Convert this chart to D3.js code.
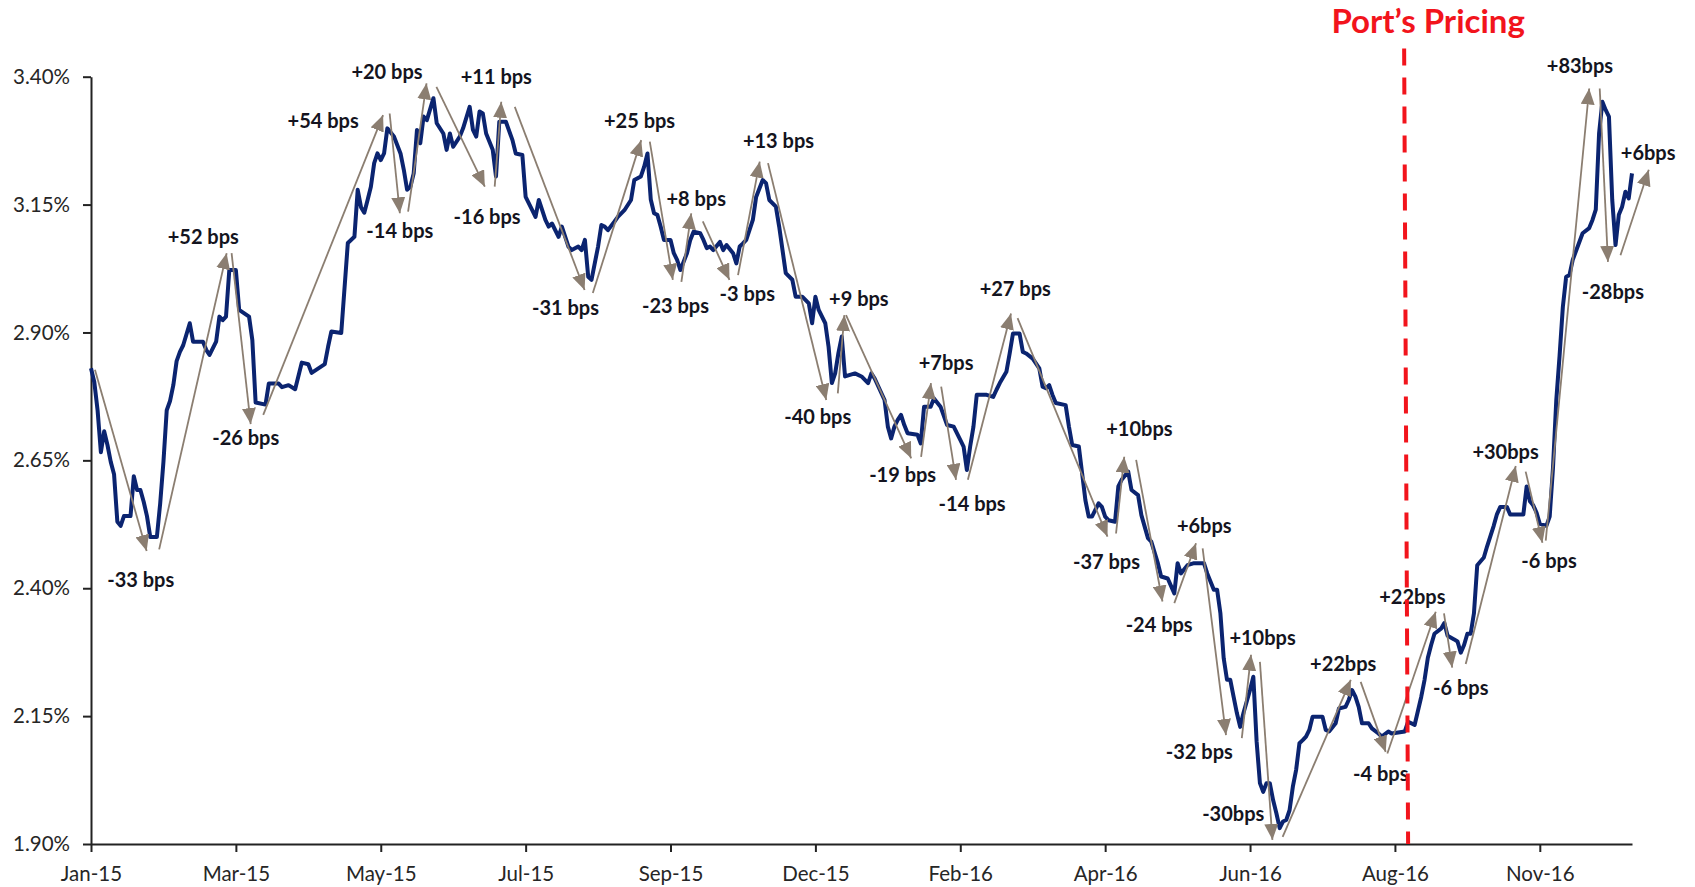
<!DOCTYPE html>
<html>
<head>
<meta charset="utf-8">
<script src="https://cdnjs.cloudflare.com/ajax/libs/d3/7.8.5/d3.min.js"></script>
<style>
  body { margin: 0; background: #fff; }
  text { font-family: Lato, "Open Sans", sans-serif; }
</style>
</head>
<body>
<svg id="chart" width="1695" height="887"></svg>
<script>
// business-day index from 2 Jan 2015, yield in %
const dayIndex = [0,1,2,3,4,5,6,7,8,9,10,12,13,14,15,16,17,18,20,21,22,23,24,25,26,27,28,30,31,34,35,36,38,39,40,41,42,44,45,48,49,50,53,54,57,58,60,62,64,66,67,71,72,73,76,78,80,81,82,83,84,85,86,87,88,89,90,92,94,95,96,97,98,99,100,101,102,104,105,107,108,109,110,112,113,115,116,117,118,119,120,122,123,124,126,128,129,131,132,134,135,136,138,139,140,142,143,145,146,148,149,150,151,152,154,155,156,157,159,160,162,164,165,167,168,169,170,171,172,173,174,176,177,178,179,181,182,183,185,186,187,188,189,191,192,193,195,196,197,198,199,201,202,204,205,206,208,209,211,213,214,216,218,219,220,221,223,224,225,226,227,228,229,232,234,236,237,238,241,242,243,244,245,246,247,248,251,252,253,255,256,258,260,262,264,265,266,267,268,269,272,274,275,276,278,279,280,282,283,284,286,288,289,290,291,292,293,296,297,298,300,301,302,303,304,306,307,308,309,311,312,313,315,316,318,319,321,322,324,325,327,329,330,331,333,335,338,339,341,342,343,344,345,346,347,348,349,350,352,353,354,355,356,357,358,359,360,361,362,363,364,365,366,367,368,369,370,371,374,375,376,378,379,381,382,383,384,385,386,388,389,391,392,394,395,399,400,402,404,405,406,407,408,410,411,412,414,415,416,417,418,419,420,421,423,424,426,427,428,430,431,435,436,437,438,439,440,442,443,444,445,446,447,448,449,450,453,455,456,457,458,459,460,461,462,463,464,465,466,467,468];
const yieldPct = [2.830,2.803,2.748,2.666,2.707,2.680,2.647,2.623,2.530,2.522,2.541,2.541,2.619,2.592,2.592,2.569,2.541,2.500,2.500,2.565,2.647,2.748,2.766,2.797,2.844,2.862,2.875,2.918,2.882,2.882,2.866,2.856,2.882,2.931,2.924,2.931,3.022,3.022,2.944,2.931,2.885,2.763,2.759,2.800,2.800,2.793,2.797,2.789,2.841,2.838,2.821,2.838,2.872,2.902,2.899,3.075,3.087,3.179,3.145,3.134,3.159,3.185,3.231,3.250,3.237,3.250,3.299,3.283,3.250,3.218,3.179,3.185,3.211,3.296,3.270,3.322,3.315,3.358,3.309,3.289,3.257,3.289,3.263,3.283,3.299,3.341,3.296,3.283,3.332,3.328,3.289,3.257,3.205,3.312,3.312,3.276,3.250,3.247,3.165,3.139,3.126,3.159,3.120,3.107,3.113,3.087,3.107,3.068,3.061,3.068,3.061,3.081,3.009,3.003,3.068,3.110,3.107,3.100,3.117,3.126,3.139,3.159,3.198,3.205,3.224,3.250,3.160,3.133,3.130,3.107,3.081,3.081,3.055,3.042,3.022,3.055,3.081,3.097,3.094,3.081,3.065,3.068,3.061,3.077,3.061,3.071,3.055,3.035,3.068,3.074,3.081,3.120,3.165,3.198,3.192,3.159,3.146,3.107,3.016,3.003,2.970,2.970,2.957,2.918,2.970,2.944,2.918,2.872,2.801,2.820,2.860,2.892,2.814,2.820,2.814,2.801,2.820,2.810,2.768,2.716,2.693,2.716,2.729,2.739,2.719,2.703,2.700,2.683,2.755,2.755,2.771,2.755,2.719,2.716,2.690,2.677,2.631,2.677,2.716,2.778,2.778,2.774,2.788,2.801,2.823,2.859,2.898,2.898,2.862,2.859,2.849,2.830,2.794,2.791,2.797,2.778,2.762,2.758,2.716,2.680,2.677,2.625,2.572,2.540,2.540,2.566,2.559,2.540,2.533,2.530,2.599,2.612,2.628,2.592,2.582,2.543,2.498,2.491,2.449,2.423,2.419,2.390,2.449,2.429,2.445,2.449,2.449,2.429,2.397,2.397,2.351,2.263,2.221,2.221,2.188,2.156,2.129,2.156,2.201,2.227,2.100,2.019,2.002,2.019,2.019,1.986,1.960,1.931,1.944,1.947,1.966,2.012,2.045,2.097,2.103,2.110,2.123,2.149,2.149,2.123,2.120,2.136,2.165,2.168,2.182,2.201,2.188,2.168,2.136,2.136,2.126,2.116,2.110,2.120,2.116,2.120,2.139,2.133,2.188,2.221,2.264,2.289,2.311,2.321,2.332,2.307,2.300,2.296,2.274,2.289,2.311,2.311,2.351,2.445,2.460,2.482,2.522,2.545,2.559,2.559,2.544,2.544,2.599,2.570,2.562,2.548,2.526,2.522,2.540,2.635,2.767,2.854,2.950,3.009,3.012,3.042,3.094,3.104,3.120,3.140,3.289,3.351,3.335,3.322,3.159,3.071,3.130,3.146,3.175,3.162,3.211];

const xTickLabels = ["Jan-15","Mar-15","May-15","Jul-15","Sep-15","Dec-15","Feb-16","Apr-16","Jun-16","Aug-16","Nov-16"];
const xTickEvery = 44;
const yTicks = [1.90, 2.15, 2.40, 2.65, 2.90, 3.15, 3.40];

// move annotations: label, arrow start [day, %], arrow tip [day, %], label centre [day, %]
const moveLabels = ["-33 bps","+52 bps","-26 bps","+54 bps","-14 bps","+20 bps","-16 bps","+11 bps","-31 bps","+25 bps","-23 bps","+8 bps","-3 bps","+13 bps","-40 bps","+9 bps","-19 bps","+7bps","-14 bps","+27 bps","-37 bps","+10bps","-24 bps","+6bps","-32 bps","+10bps","-30bps","+22bps","-4 bps","+22bps","-6 bps","+30bps","-6 bps","+83bps","-28bps","+6bps"];
const moveFrom = [[1.2,2.827],[20.7,2.476],[42.7,3.055],[52.3,2.739],[90.7,3.328],[96.3,3.136],[104.9,3.380],[122.6,3.185],[128.7,3.341],[152.4,2.977],[169.7,3.273],[179.3,2.999],[185.8,3.117],[196.5,3.012],[205.6,3.231],[226.8,2.781],[229.3,2.934],[252.1,2.657],[258.2,2.794],[266.3,2.612],[281.4,2.928],[311.3,2.507],[317.4,2.651],[329.0,2.371],[337.6,2.478],[349.5,2.107],[355.0,2.256],[361.9,1.914],[385.6,2.217],[393.7,2.077],[410.9,2.351],[417.5,2.252],[435.7,2.628],[441.8,2.493],[458.2,3.377],[464.5,3.051]];
const moveTo = [[16.9,2.473],[41.2,3.055],[48.5,2.721],[88.7,3.325],[93.8,3.133],[101.9,3.387],[119.6,3.185],[124.6,3.351],[149.9,2.983],[167.1,3.276],[176.7,3.003],[182.3,3.133],[193.9,3.003],[203.1,3.234],[223.3,2.768],[228.8,2.934],[249.1,2.654],[255.1,2.801],[262.7,2.612],[279.4,2.937],[308.7,2.501],[313.8,2.657],[325.4,2.374],[335.6,2.488],[344.7,2.113],[352.3,2.270],[358.8,1.908],[382.6,2.221],[393.2,2.080],[408.4,2.354],[413.4,2.245],[432.7,2.639],[440.8,2.489],[455.0,3.377],[460.7,3.038],[473.1,3.218]];
const moveLabelAt = [[15.1,2.416],[34.1,3.087],[47.0,2.693],[70.5,3.313],[93.8,3.099],[89.9,3.409],[120.3,3.125],[123.1,3.400],[144.1,2.948],[166.6,3.313],[177.5,2.952],[183.8,3.161],[199.3,2.975],[208.8,3.274],[220.7,2.735],[233.2,2.965],[246.5,2.621],[259.7,2.840],[267.6,2.565],[280.7,2.984],[308.4,2.452],[318.4,2.711],[324.4,2.328],[338.1,2.522],[336.6,2.080],[355.8,2.302],[346.9,1.958],[380.3,2.251],[391.7,2.036],[401.3,2.383],[416.0,2.205],[429.6,2.666],[442.8,2.453],[452.2,3.420],[462.2,2.980],[472.9,3.250]];

// the pricing marker is drawn a touch off vertical, as in the source
const portPricingDays = [398.8, 400.0];
const portPricingTitle = "Port\u2019s Pricing";

const margin = { top: 76.7, right: 63, bottom: 43, left: 91 };
const width = 1695, height = 887;

const svg = d3.select("#chart");

const x = d3.scaleLinear()
  .domain([0, 468])
  .range([margin.left, width - margin.right]);
const y = d3.scaleLinear()
  .domain([1.9, 3.4])
  .range([height - margin.bottom, margin.top]);

// arrowhead
svg.append("defs")
  .append("marker")
  .attr("id", "head")
  .attr("markerUnits", "userSpaceOnUse")
  .attr("markerWidth", 18)
  .attr("markerHeight", 14)
  .attr("refX", 16)
  .attr("refY", 7)
  .attr("orient", "auto")
  .append("path")
  .attr("d", "M0,0 L16,7 L0,14 Z")
  .attr("fill", "#8b7e71");

// axes
const yAxis = svg.append("g")
  .attr("transform", `translate(${margin.left},0)`)
  .call(d3.axisLeft(y)
    .tickValues(yTicks)
    .tickFormat((d) => d.toFixed(2) + "%")
    .tickSize(8)
    .tickSizeOuter(0)
    .tickPadding(13));

const xAxis = svg.append("g")
  .attr("transform", `translate(0,${y(1.9)})`)
  .call(d3.axisBottom(x)
    .tickValues(xTickLabels.map((_, k) => k * xTickEvery))
    .tickFormat((d, k) => xTickLabels[k])
    .tickSize(8)
    .tickSizeOuter(0)
    .tickPadding(14));

[yAxis, xAxis].forEach((g) => {
  g.select(".domain").attr("stroke", "#222").attr("stroke-width", 2);
  g.selectAll(".tick line").attr("stroke", "#222").attr("stroke-width", 2);
  g.selectAll(".tick text")
    .attr("fill", "#262626")
    .style("font-size", "20.5px");
});

// yield line
const series = dayIndex.map((d, k) => [d, yieldPct[k]]);
svg.append("path")
  .datum(series)
  .attr("fill", "none")
  .attr("stroke", "#0b2470")
  .attr("stroke-width", 4)
  .attr("stroke-linejoin", "round")
  .attr("d", d3.line().x((d) => x(d[0])).y((d) => y(d[1])));

// move arrows
svg.append("g")
  .selectAll("line")
  .data(moveFrom)
  .join("line")
  .attr("x1", (d) => x(d[0]))
  .attr("y1", (d) => y(d[1]))
  .attr("x2", (d, k) => x(moveTo[k][0]))
  .attr("y2", (d, k) => y(moveTo[k][1]))
  .attr("stroke", "#8b7e71")
  .attr("stroke-width", 1.8)
  .attr("marker-end", "url(#head)");

svg.append("g")
  .selectAll("text")
  .data(moveLabels)
  .join("text")
  .attr("x", (d, k) => x(moveLabelAt[k][0]))
  .attr("y", (d, k) => y(moveLabelAt[k][1]))
  .attr("dy", "0.35em")
  .attr("text-anchor", "middle")
  .attr("fill", "#141420")
  .style("font-size", "20px")
  .style("font-weight", "700")
  .text((d) => d);

// port's pricing marker
svg.append("line")
  .attr("x1", x(portPricingDays[0]))
  .attr("x2", x(portPricingDays[1]))
  .attr("y1", y(3.455))
  .attr("y2", y(1.9))
  .attr("stroke", "#f2141c")
  .attr("stroke-width", 4)
  .attr("stroke-dasharray", "17,12");

svg.append("text")
  .attr("x", x(portPricingDays[0]) + 24)
  .attr("y", 33)
  .attr("text-anchor", "middle")
  .attr("fill", "#f2141c")
  .style("font-size", "33px")
  .style("font-weight", "700")
  .text(portPricingTitle);
</script>
</body>
</html>
